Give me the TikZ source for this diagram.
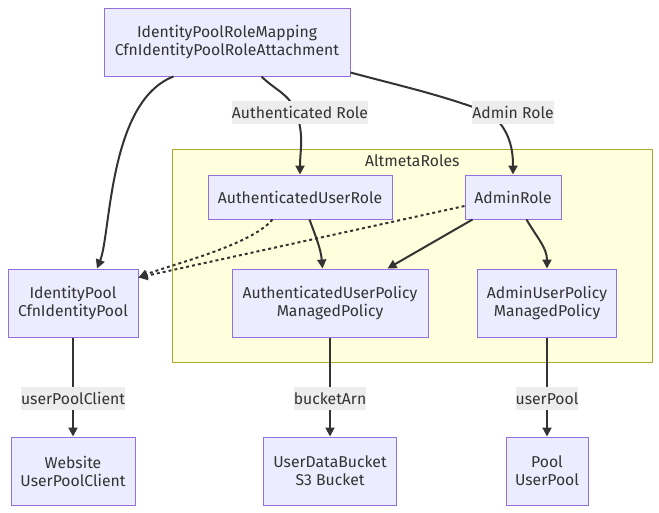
\documentclass[tikz,border=0pt]{standalone}
\usepackage{fontspec}
\setmainfont{Fira Sans}
\usetikzlibrary{positioning}
\usetikzlibrary{fit,backgrounds,arrows.meta}
\definecolor{nodefill}{HTML}{ECECFF}
\definecolor{nodeline}{HTML}{9370DB}
\definecolor{grpfill}{HTML}{FFFFDE}
\definecolor{grpline}{HTML}{AAAA33}
\definecolor{edgecol}{HTML}{333333}
\definecolor{lblfill}{HTML}{EDEDED}
\tikzset{%
  refarrow/.style = {-{Triangle[length=6.75pt,width=6.75pt]},line width=1.5pt,draw=edgecol},
  dotarrow/.style = {refarrow,dash pattern=on 2.25pt off 2.25pt},
  b/.style = {rectangle,draw=nodeline,fill=nodefill,line width=0.75pt,
        align=center,text=edgecol,minimum height=51pt,inner sep=0pt},
  b1/.style = {b,minimum height=33pt},
  lbl/.style = {fill=lblfill,text=edgecol,inner xsep=0pt,inner ysep=0pt,
        minimum height=17.25pt},
  grp/.style = {rectangle,draw=grpline,fill=grpfill,line width=0.75pt,
        inner xsep=26.25pt,inner ysep=18.75pt}
}
\begin{document}
\begin{tikzpicture}[x=0.75pt,y=-0.75pt,node distance=74.25pt]\fontsize{11.8}{13.5}\selectfont
   \useasboundingbox (0,0) rectangle (659,512);
   \node[b,minimum width=184.5pt] (map) at (227,42) {IdentityPoolRoleMapping\\CfnIdentityPoolRoleAttachment};
   \node[b1,minimum width=138pt] (authrole) at (300,197) {AuthenticatedUserRole};
   \node[b1,minimum width=72pt] (adminrole) at (513,197) {AdminRole};
   \node[b,minimum width=97.5pt] (idpool) at (73,303) {IdentityPool\\CfnIdentityPool};
   \node[b,minimum width=147pt] (authpol) at (330,303) {AuthenticatedUserPolicy\\ManagedPolicy};
   \node[b,minimum width=104.25pt] (adminpol) at (547,303) {AdminUserPolicy\\ManagedPolicy};

   \node[b,minimum width=93pt] (website) [below=of idpool] {Website\\UserPoolClient};
   \node[b,minimum width=99.75pt] (bucket) [below=of authpol] {UserDataBucket\\S3 Bucket};
   \node[b,minimum width=61.5pt] (pool) [below=of adminpol] {Pool\\UserPool};

   \begin{scope}[on background layer]
   \node[grp,fit=(authrole)(adminrole)(authpol)(adminpol)] (roles) {};
   \end{scope}
   \node[text=edgecol] (rolestitle) at ([yshift=-9pt]roles.north) {AltmetaRoles};

   \coordinate (viaauth) at (296,112);
   \coordinate (viaadmin) at (490,113);

   \draw[refarrow] ([xshift=52.5pt]map.south west) .. controls +(-65,25) and +(14,-35) .. ([xshift=18pt]idpool.north);
   \draw[refarrow] ([xshift=118.5pt]map.south west) to[out=-45,in=110] (viaauth) to[out=-70,in=90] (authrole.north);
   \draw[refarrow] ([yshift=3pt]map.south east) to[out=-15,in=160] (viaadmin) to[out=-40,in=90] (adminrole.north);
   \draw[dotarrow] ([xshift=48.75pt]authrole.south west) to[out=-130,in=22,looseness=0.6] ([yshift=-6.75pt]idpool.north east);
   \draw[dotarrow] ([yshift=-6.75pt]adminrole.west) -- ([yshift=-6.75pt]idpool.north east);
   \draw[refarrow] ([xshift=76.5pt]authrole.south west) to[out=-70,in=95] ([xshift=68.25pt]authpol.north west);
   \draw[refarrow] ([xshift=6pt]adminrole.south west) -- ([xshift=117pt]authpol.north west);
   \draw[refarrow] ([xshift=46.5pt]adminrole.south west) to[out=-60,in=90] (adminpol.north);
   \draw[refarrow] (idpool) -- node[lbl,pos=0.62] (lclient) {userPoolClient} (website);
   \draw[refarrow] (authpol) -- node[lbl,pos=0.62] (larn) {bucketArn} (bucket);
   \draw[refarrow] (adminpol) -- node[lbl,pos=0.62] (lpool) {userPool} (pool);

   \node[lbl] (lauth) at (300,112) {Authenticated Role};
   \node[lbl] (ladmin) at (513,112) {Admin Role};
\end{tikzpicture}
\end{document}
